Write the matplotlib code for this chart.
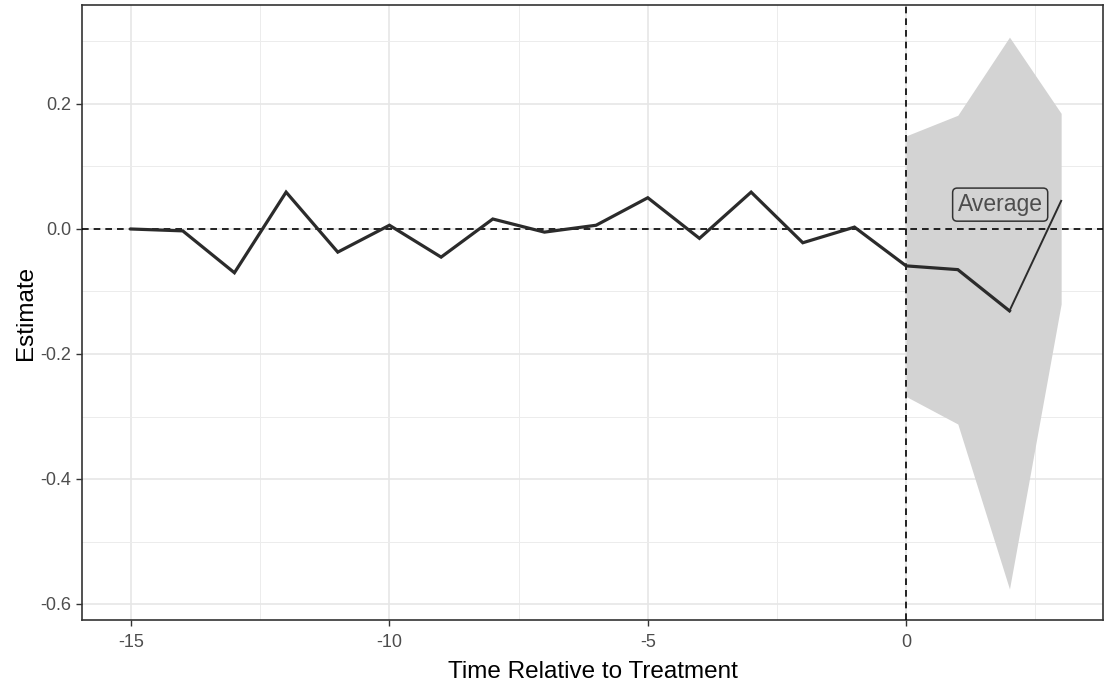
import matplotlib.pyplot as plt
from matplotlib.ticker import MultipleLocator

plt.rcParams['font.family'] = ['Liberation Sans', 'DejaVu Sans']

# event-study estimates
rel_time = [-15, -14, -13, -12, -11, -10, -9, -8, -7, -6, -5, -4, -3, -2, -1, 0, 1, 2, 3]
estimate = [0.000, -0.003, -0.070, 0.059, -0.037, 0.006, -0.045, 0.016, -0.005, 0.006,
            0.050, -0.015, 0.059, -0.022, 0.003, -0.059, -0.065, -0.131, 0.045]

# confidence band for post period
post_time = [0, 1, 2, 3]
ci_upper = [0.149, 0.182, 0.307, 0.185]
ci_lower = [-0.268, -0.312, -0.576, -0.120]

label_x = 1.82
label_y = 0.039

fig = plt.figure(figsize=(11.09, 6.82), dpi=100)
ax = fig.add_axes([82 / 1109, 1 - 620 / 682, (1103 - 82) / 1109, (620 - 5) / 682])

ax.fill_between(post_time, ci_lower, ci_upper, color='#d3d3d3', lw=0, zorder=2)
ax.plot(rel_time[:-1], estimate[:-1], color='#2b2b2b', lw=2.3, zorder=4,
        solid_joinstyle='miter')
ax.plot(rel_time[-2:], estimate[-2:], color='#2b2b2b', lw=1.4, zorder=4)

ax.axhline(0, color='black', lw=1.2, ls=(0, (4, 3)), zorder=3)
ax.axvline(0, color='black', lw=1.2, ls=(0, (4, 3)), zorder=3)

ax.text(label_x, label_y, 'Average', ha='center', va='center', fontsize=16.5,
        color='#4d4d4d', zorder=5,
        bbox=dict(boxstyle='round,pad=0.22,rounding_size=0.2', fc='#d3d3d3',
                  ec='#333333', lw=1.1))

ax.set_xlim(-15.95, 3.81)
ax.set_ylim(-0.6256, 0.3584)
ax.xaxis.set_minor_locator(MultipleLocator(2.5))
ax.yaxis.set_minor_locator(MultipleLocator(0.1))
ax.set_yticks([0.2, 0.0, -0.2, -0.4, -0.6])
ax.set_yticklabels(['0.2', '0.0', '-0.2', '-0.4', '-0.6'])
ax.set_xticks([-15, -10, -5, 0])
ax.set_xticklabels(['-15', '-10', '-5', '0'])

ax.grid(which='major', color='#e6e6e6', lw=1.2, zorder=0)
ax.grid(which='minor', color='#ececec', lw=0.7, zorder=0)
ax.set_axisbelow(True)

for sp in ax.spines.values():
    sp.set_color('#333333')
    sp.set_linewidth(1.2)

ax.tick_params(which='major', length=4, width=1, color='#333333',
               labelcolor='#4d4d4d', labelsize=13, pad=4)
ax.tick_params(axis='x', which='major', pad=6)
ax.tick_params(which='minor', length=0)

ax.set_xlabel('Time Relative to Treatment', fontsize=17.5, color='black', labelpad=7)
ax.set_ylabel('Estimate', fontsize=17.5, color='black', labelpad=2)

fig.savefig('out.png', dpi=100)
